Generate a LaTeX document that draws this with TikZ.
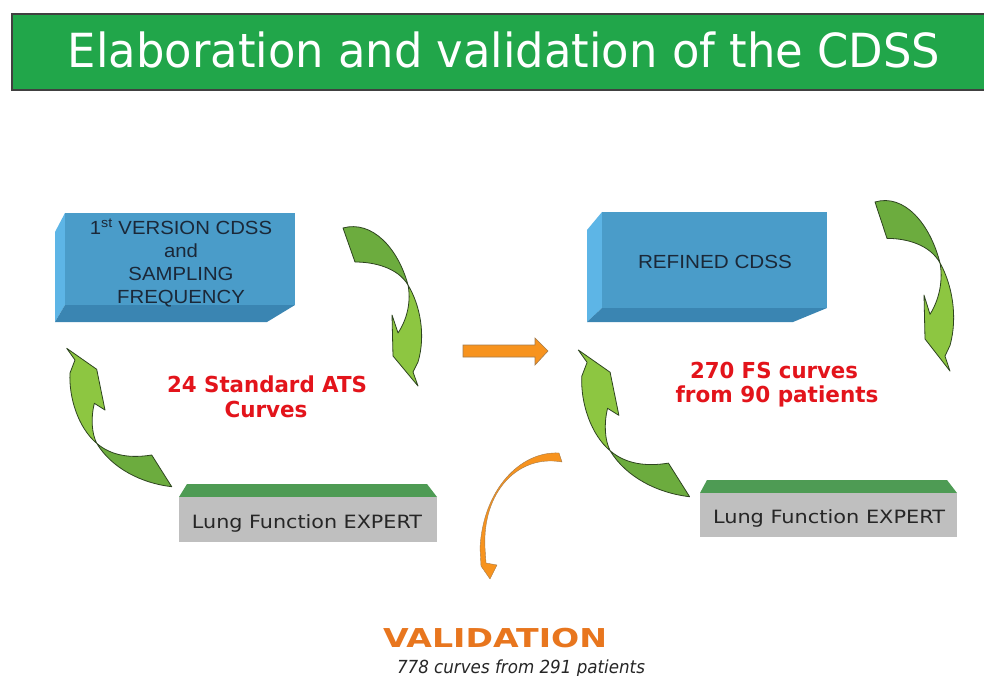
\documentclass[tikz,border=0pt]{standalone}
\usepackage{fontspec}
\usepackage{graphicx}
\newfontfamily\vsans{DejaVu Sans}
\newfontfamily\asans{Liberation Sans}
% stretch or squeeze a text horizontally to a given width, keeping its height
\newcommand\fitto[2]{\resizebox{#1}{\height}{#2}}
\newcommand\wider[1]{\scalebox{1.07}[1]{#1}}

\definecolor{titlegreen}{HTML}{21A64A}
\definecolor{boxfront}{HTML}{4A9CC9}
\definecolor{boxleft}{HTML}{5DB5E6}
\definecolor{boxbottom}{HTML}{3A85B2}
\definecolor{boxtext}{HTML}{1B2838}
\definecolor{leafdark}{HTML}{6CAC3E}
\definecolor{leaflight}{HTML}{8DC641}
\definecolor{leafline}{HTML}{2E4420}
\definecolor{slabgray}{HTML}{BFBFBF}
\definecolor{slabtop}{HTML}{4E9B54}
\definecolor{labelred}{HTML}{E3141B}
\definecolor{arroworange}{HTML}{F7931E}
\definecolor{arrowedge}{HTML}{A27B4E}
\definecolor{valorange}{HTML}{E8761E}

\tikzset{
  leaf/.style={draw=leafline, line width=0.8pt, line join=round},
  boxlabel/.style={inner sep=0, text=boxtext, font=\asans\fontsize{19}{23}\selectfont, align=center},
  slabtext/.style={inner sep=0, anchor=base, text=black!85, font=\vsans\fontsize{18.3}{20}\selectfont},
  redlabel/.style={inner sep=0, anchor=base, text=labelred, font=\vsans\bfseries\fontsize{22}{24}\selectfont},
}

% curved band arrow turning downwards; origin at the outer corner of its tail
\newcommand\downleaf{%
  \path[leaf, fill=leafdark] (0,0) .. controls (29,-8) and (55,20) .. (65,57)
    .. controls (55,40) and (32,34) .. (12,34) -- cycle;
  \path[leaf, fill=leaflight] (65,57) .. controls (77,77) and (83,107) .. (75,134)
    -- (70,144) -- (75,158) -- (50,128) -- (49,87) -- (55,105)
    .. controls (65,90) and (68,72) .. (65,57) -- cycle;
}
% curved band arrow turning upwards; origin at its tip
\newcommand\upleaf{%
  \path[leaf, fill=leafdark] (30,95) .. controls (45,120) and (75,135) .. (105,138.4)
    -- (85,106.7) .. controls (65,110) and (45,108) .. (30,95) -- cycle;
  \path[leaf, fill=leaflight] (0,0) -- (30,21) -- (38.3,61.7) -- (27.6,55)
    .. controls (24,70) and (25,85) .. (30,95)
    .. controls (12,80) and (2,50) .. (3.3,24.7) -- (8.3,11.7) -- cycle;
}

\begin{document}
\begin{tikzpicture}[x=1pt, y=-1pt]
\useasboundingbox (0,0) rectangle (984,676);
\clip (0,0) rectangle (984,676);
\fill[white] (0,0) rectangle (984,676);

% heading bar
\draw[fill=titlegreen, draw=black!75, line width=1.3pt] (12,14) rectangle (992,90);
\node[anchor=base, inner sep=0, text=white, font=\vsans\fontsize{47}{50}\selectfont] (title) at (504,68)
  {\fitto{872pt}{Elaboration and validation of the CDSS}};

% first CDSS block
\fill[boxleft] (55,232) -- (65,213) -- (65,305) -- (55,322) -- cycle;
\fill[boxbottom] (65,305) -- (295,305) -- (267,322) -- (55,322) -- cycle;
\fill[boxfront] (65,213) rectangle (295,305);
\node[boxlabel] (first) at (181,263)
  {\wider{1\textsuperscript{st} VERSION CDSS}\\\wider{and}\\\wider{SAMPLING}\\\wider{FREQUENCY}};

% refined CDSS block
\fill[boxleft] (587,230) -- (602,212) -- (602,308) -- (587,322) -- cycle;
\fill[boxbottom] (602,308) -- (827,308) -- (793,322) -- (587,322) -- cycle;
\fill[boxfront] (602,212) rectangle (827,308);
\node[boxlabel] (refined) at (715,262) {\fitto{154pt}{REFINED CDSS}};

% expert slabs
\fill[slabtop] (187,484) -- (427,484) -- (437,497) -- (179,497) -- cycle;
\fill[slabgray] (179,497) rectangle (437,542);
\node[slabtext] (expertL) at (307,528) {\fitto{230pt}{Lung Function EXPERT}};

\fill[slabtop] (707,480) -- (947,480) -- (957,493) -- (700,493) -- cycle;
\fill[slabgray] (700,493) rectangle (957,537);
\node[slabtext] (expertR) at (829,523) {\fitto{232pt}{Lung Function EXPERT}};

% cycle arrows
\begin{scope}[shift={(343,228)}] \downleaf \end{scope}
\begin{scope}[shift={(66.7,348.3)}] \upleaf \end{scope}
\begin{scope}[shift={(875,202)}, yscale=1.07] \downleaf \end{scope}
\begin{scope}[shift={(578.3,350)}, scale=1.06] \upleaf \end{scope}

% curve counts
\node[redlabel] (atsA) at (267,392) {\fitto{200pt}{24 Standard ATS}};
\node[redlabel] (atsB) at (266,417) {\fitto{83pt}{Curves}};
\node[redlabel] (fsA) at (774,378) {\fitto{168pt}{270 FS curves}};
\node[redlabel] (fsB) at (777,402) {\fitto{203pt}{from 90 patients}};

% orange arrows
\path[fill=arroworange, draw=arrowedge, line width=0.6pt, line join=miter]
  (463,345) -- (535,345) -- (535,338) -- (548,351) -- (535,365) -- (535,357) -- (463,357) -- cycle;
\path[fill=arroworange, draw=arrowedge, line width=0.4pt, line join=round]
  (559,453) .. controls (520,451) and (483,490) .. (480,548) -- (481,566)
  -- (490,579) -- (497,565) -- (486,563) -- (485,548)
  .. controls (482,492) and (518,454) .. (562,462) -- cycle;

% validation
\node[anchor=base, inner sep=0, text=valorange, font=\vsans\bfseries\fontsize{26}{28}\selectfont] (validation) at (495,647)
  {\fitto{224pt}{VALIDATION}};
\node[anchor=base, inner sep=0, text=black!85, font=\vsans\itshape\fontsize{18}{20}\selectfont] (valcount) at (521,673)
  {\fitto{248pt}{778 curves from 291 patients}};
\end{tikzpicture}
\end{document}
